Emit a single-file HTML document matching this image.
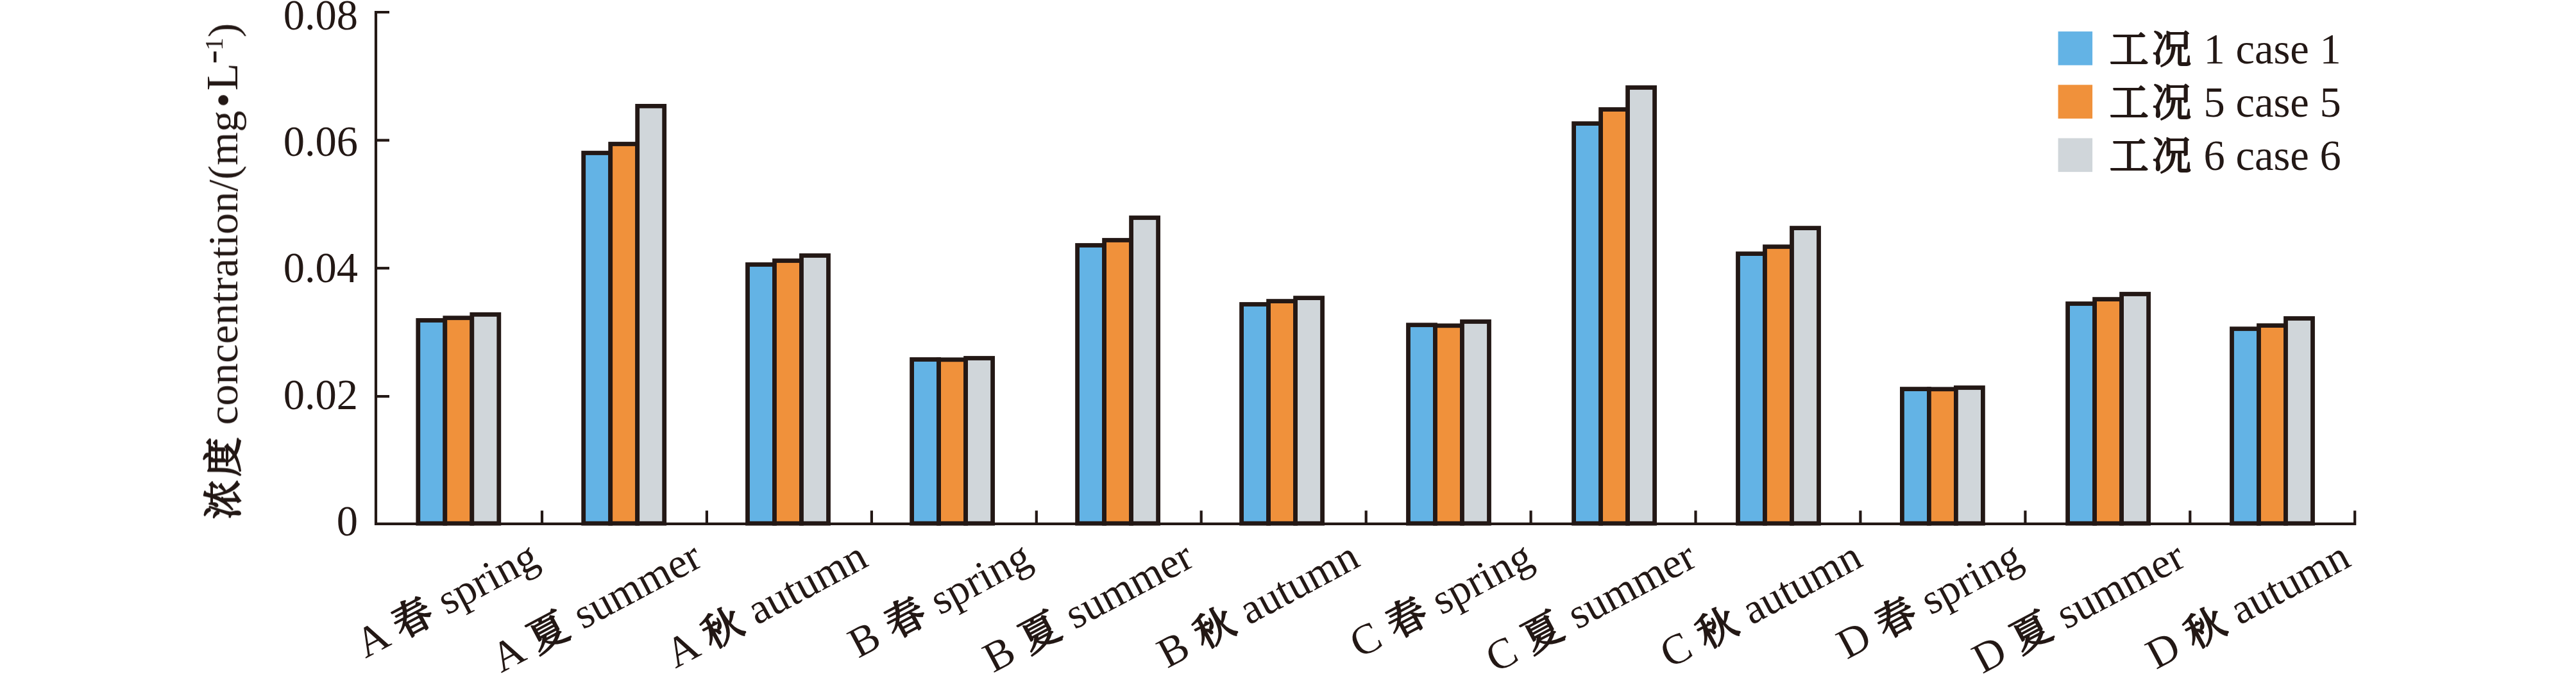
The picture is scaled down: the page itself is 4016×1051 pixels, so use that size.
<!DOCTYPE html>
<html lang="zh"><head><meta charset="utf-8"><title>chart</title>
<style>html,body{margin:0;padding:0;background:#fff}svg{display:block}text{font-family:"Liberation Serif", "Noto Serif CJK SC", serif;fill:#231815}.c{font-size:61.5px;letter-spacing:5px;stroke:#231815;stroke-width:2.2px;stroke-linejoin:round}</style></head><body>
<svg width="4016" height="1051" viewBox="0 0 4016 1051">
<rect width="4016" height="1051" fill="#fff"/>
<g opacity="0.999">
<g fill="none" stroke="#231815" stroke-width="4.2">
<path d="M607,19 H586.0 V816.9 H3671.2 V796.2"/>
<path d="M586.0,218.7 H607"/>
<path d="M586.0,418.2 H607"/>
<path d="M586.0,618.1 H607"/>
<path d="M845.0,816.9 V796.2"/>
<path d="M1101.9,816.9 V796.2"/>
<path d="M1358.9,816.9 V796.2"/>
<path d="M1615.8,816.9 V796.2"/>
<path d="M1872.7,816.9 V796.2"/>
<path d="M2129.7,816.9 V796.2"/>
<path d="M2386.6,816.9 V796.2"/>
<path d="M2643.5,816.9 V796.2"/>
<path d="M2900.4,816.9 V796.2"/>
<path d="M3157.4,816.9 V796.2"/>
<path d="M3414.3,816.9 V796.2"/>
</g>
<g stroke="#231815" stroke-width="6.8">
<rect x="651.8" y="499.5" width="42.0" height="316.7" fill="#63B3E5"/>
<rect x="693.8" y="495.7" width="42.0" height="320.5" fill="#F0913B"/>
<rect x="735.8" y="490.4" width="42.0" height="325.8" fill="#D0D6DA"/>
<rect x="909.7" y="238.5" width="42.0" height="577.7" fill="#63B3E5"/>
<rect x="951.7" y="224.5" width="42.0" height="591.7" fill="#F0913B"/>
<rect x="993.7" y="165.4" width="42.0" height="650.8" fill="#D0D6DA"/>
<rect x="1165.5" y="412.5" width="42.0" height="403.7" fill="#63B3E5"/>
<rect x="1207.5" y="406.5" width="42.0" height="409.7" fill="#F0913B"/>
<rect x="1249.5" y="398.5" width="42.0" height="417.7" fill="#D0D6DA"/>
<rect x="1421.6" y="560.5" width="42.0" height="255.7" fill="#63B3E5"/>
<rect x="1463.6" y="560.8" width="42.0" height="255.4" fill="#F0913B"/>
<rect x="1505.6" y="558.5" width="42.0" height="257.7" fill="#D0D6DA"/>
<rect x="1679.6" y="382.5" width="42.0" height="433.7" fill="#63B3E5"/>
<rect x="1721.6" y="374.5" width="42.0" height="441.7" fill="#F0913B"/>
<rect x="1763.6" y="339.5" width="42.0" height="476.7" fill="#D0D6DA"/>
<rect x="1935.6" y="474.5" width="42.0" height="341.7" fill="#63B3E5"/>
<rect x="1977.6" y="469.6" width="42.0" height="346.6" fill="#F0913B"/>
<rect x="2019.6" y="464.6" width="42.0" height="351.6" fill="#D0D6DA"/>
<rect x="2195.5" y="506.7" width="42.0" height="309.5" fill="#63B3E5"/>
<rect x="2237.5" y="507.8" width="42.0" height="308.4" fill="#F0913B"/>
<rect x="2279.5" y="501.5" width="42.0" height="314.7" fill="#D0D6DA"/>
<rect x="2453.6" y="192.6" width="42.0" height="623.6" fill="#63B3E5"/>
<rect x="2495.6" y="170.6" width="42.0" height="645.6" fill="#F0913B"/>
<rect x="2537.6" y="136.5" width="42.0" height="679.7" fill="#D0D6DA"/>
<rect x="2709.5" y="395.6" width="42.0" height="420.6" fill="#63B3E5"/>
<rect x="2751.5" y="384.7" width="42.0" height="431.5" fill="#F0913B"/>
<rect x="2793.5" y="355.6" width="42.0" height="460.6" fill="#D0D6DA"/>
<rect x="2965.4" y="606.6" width="42.0" height="209.6" fill="#63B3E5"/>
<rect x="3007.4" y="606.8" width="42.0" height="209.4" fill="#F0913B"/>
<rect x="3049.4" y="604.5" width="42.0" height="211.7" fill="#D0D6DA"/>
<rect x="3223.6" y="473.5" width="42.0" height="342.7" fill="#63B3E5"/>
<rect x="3265.6" y="466.6" width="42.0" height="349.6" fill="#F0913B"/>
<rect x="3307.6" y="458.5" width="42.0" height="357.7" fill="#D0D6DA"/>
<rect x="3479.5" y="512.7" width="42.0" height="303.5" fill="#63B3E5"/>
<rect x="3521.5" y="507.6" width="42.0" height="308.6" fill="#F0913B"/>
<rect x="3563.5" y="496.5" width="42.0" height="319.7" fill="#D0D6DA"/>
</g>
<g font-size="66.5" text-anchor="end">
<text transform="translate(558,45.7) scale(1,1.012)">0.08</text>
<text transform="translate(558,242.9) scale(1,1.012)">0.06</text>
<text transform="translate(558,440.3) scale(1,1.012)">0.04</text>
<text transform="translate(558,637.9) scale(1,1.012)">0.02</text>
<text transform="translate(558,835.4) scale(1,1.012)">0</text>
</g>
<g transform="translate(370,812.3) rotate(-90)" font-size="66.5">
<text x="0" y="0"><tspan class="c" dx="2.5">浓度</tspan><tspan dx="-2.5" style="letter-spacing:0.15px"> concentration/(mg</tspan></text>
<text x="656.2" y="0" text-anchor="middle">•</text>
<text x="671" y="0" font-size="70">L</text>
<text x="723.8" y="-24.6" font-size="30" text-anchor="middle" stroke="#231815" stroke-width="3">−</text>
<text x="743.4" y="-22.6" font-size="40" text-anchor="middle">1</text>
<text x="754" y="0">)</text>
</g>
<g font-size="66.5" text-anchor="end">
<text transform="translate(843.7,881.4) rotate(-28)" x="0" y="0">A <tspan class="c" dx="2.5">春</tspan><tspan dx="-2.5"> spring</tspan></text>
<text transform="translate(1097.8,881.4) rotate(-28)" x="0" y="0">A <tspan class="c" dx="2.5">夏</tspan><tspan dx="-2.5"> summer</tspan></text>
<text transform="translate(1356.4,881.4) rotate(-28)" x="0" y="0">A <tspan class="c" dx="2.5">秋</tspan><tspan dx="-2.5"> autumn</tspan></text>
<text transform="translate(1612.0,881.4) rotate(-28)" x="0" y="0">B <tspan class="c" dx="2.5">春</tspan><tspan dx="-2.5"> spring</tspan></text>
<text transform="translate(1864.6,881.4) rotate(-28)" x="0" y="0">B <tspan class="c" dx="2.5">夏</tspan><tspan dx="-2.5"> summer</tspan></text>
<text transform="translate(2123.2,881.4) rotate(-28)" x="0" y="0">B <tspan class="c" dx="2.5">秋</tspan><tspan dx="-2.5"> autumn</tspan></text>
<text transform="translate(2393.8,881.4) rotate(-28)" x="0" y="0">C <tspan class="c" dx="2.5">春</tspan><tspan dx="-2.5"> spring</tspan></text>
<text transform="translate(2648.2,881.4) rotate(-28)" x="0" y="0">C <tspan class="c" dx="2.5">夏</tspan><tspan dx="-2.5"> summer</tspan></text>
<text transform="translate(2906.9,881.4) rotate(-28)" x="0" y="0">C <tspan class="c" dx="2.5">秋</tspan><tspan dx="-2.5"> autumn</tspan></text>
<text transform="translate(3156.6,881.4) rotate(-28)" x="0" y="0">D <tspan class="c" dx="2.5">春</tspan><tspan dx="-2.5"> spring</tspan></text>
<text transform="translate(3410.2,881.4) rotate(-28)" x="0" y="0">D <tspan class="c" dx="2.5">夏</tspan><tspan dx="-2.5"> summer</tspan></text>
<text transform="translate(3667.8,881.4) rotate(-28)" x="0" y="0">D <tspan class="c" dx="2.5">秋</tspan><tspan dx="-2.5"> autumn</tspan></text>
</g>
<g font-size="66.5">
<rect x="3208.6" y="49.1" width="53.5" height="52.6" fill="#63B3E5"/>
<text transform="translate(3286,98.8) scale(1,1.012)"><tspan class="c" dx="2.5">工况</tspan><tspan dx="-2.5"> 1 case 1</tspan></text>
<rect x="3208.6" y="132.3" width="53.5" height="52.6" fill="#F0913B"/>
<text transform="translate(3286,182.0) scale(1,1.012)"><tspan class="c" dx="2.5">工况</tspan><tspan dx="-2.5"> 5 case 5</tspan></text>
<rect x="3208.6" y="215.5" width="53.5" height="52.6" fill="#D0D6DA"/>
<text transform="translate(3286,265.2) scale(1,1.012)"><tspan class="c" dx="2.5">工况</tspan><tspan dx="-2.5"> 6 case 6</tspan></text>
</g>
</g>
</svg></body></html>
